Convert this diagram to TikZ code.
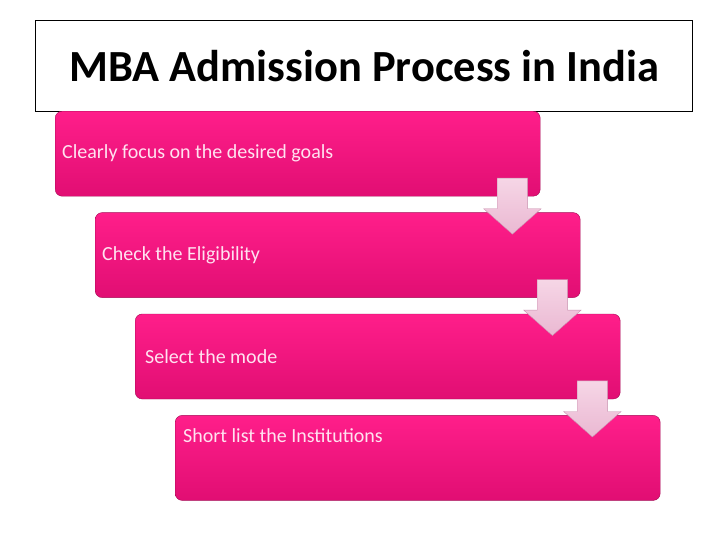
\documentclass[tikz,border=0pt]{standalone}
\usepackage{fontspec}
\setmainfont{Carlito}
\usetikzlibrary{calc,positioning,shapes.arrows}
\definecolor{bx}{RGB}{255,30,138}
\definecolor{bxdark}{RGB}{225,14,115}
\definecolor{bxedge}{RGB}{165,10,85}
\definecolor{ar}{RGB}{234,184,210}
\definecolor{arlight}{RGB}{246,214,230}
\definecolor{aredge}{RGB}{200,145,175}
\definecolor{tx}{RGB}{255,226,240}

\begin{document}
\begin{tikzpicture}[
      x=1pt, y=1pt,
      stepbox/.style={rounded corners=7pt, draw=bxedge, top color=bx, bottom color=bxdark, minimum width=485pt, minimum height=85pt, inner sep=0pt, anchor=north west},
      steptext/.style={text=tx, font=\fontsize{20}{24}\selectfont, anchor=west, inner sep=0pt},
      downarrow/.style={single arrow, shape border rotate=270, draw=aredge, top color=arlight, bottom color=ar, minimum height=56pt, inner sep=15pt, single arrow head extend=13.5pt, single arrow tip angle=97},
]
\useasboundingbox (0,0) rectangle (728,-546);

\node[draw=black, line width=1.2pt, minimum width=657pt, minimum height=91pt, anchor=north west, font=\bfseries\fontsize{44.5}{52}\selectfont] (title) at (35,-20) {MBA Admission Process in India};

\node[stepbox] (s1) at (55,-111) {};
\node[stepbox] (s2) at ($(s1.south west)+(40,-16)$) {};
\node[stepbox] (s3) at ($(s2.south west)+(40,-16)$) {};
\node[stepbox] (s4) at ($(s3.south west)+(40,-16)$) {};

\node[steptext] (t1) at ($(s1.west)+(7,0)$) {Clearly focus on the desired goals};
\node[steptext] (t2) at ($(s2.west)+(7,0)$) {Check the Eligibility};
\node[steptext] (t3) at ($(s3.west)+(10,0)$) {Select the mode};
\node[steptext] (t4) at ($(s4.north west)+(8,-20)$) {Short list the Institutions};

\node[downarrow] (a1) at ($(s1.south east)+(-28,-3)$) {};
\node[downarrow] (a2) at ($(s2.south east)+(-28,-3)$) {};
\node[downarrow] (a3) at ($(s3.south east)+(-28,-3)$) {};

\end{tikzpicture}
\end{document}
